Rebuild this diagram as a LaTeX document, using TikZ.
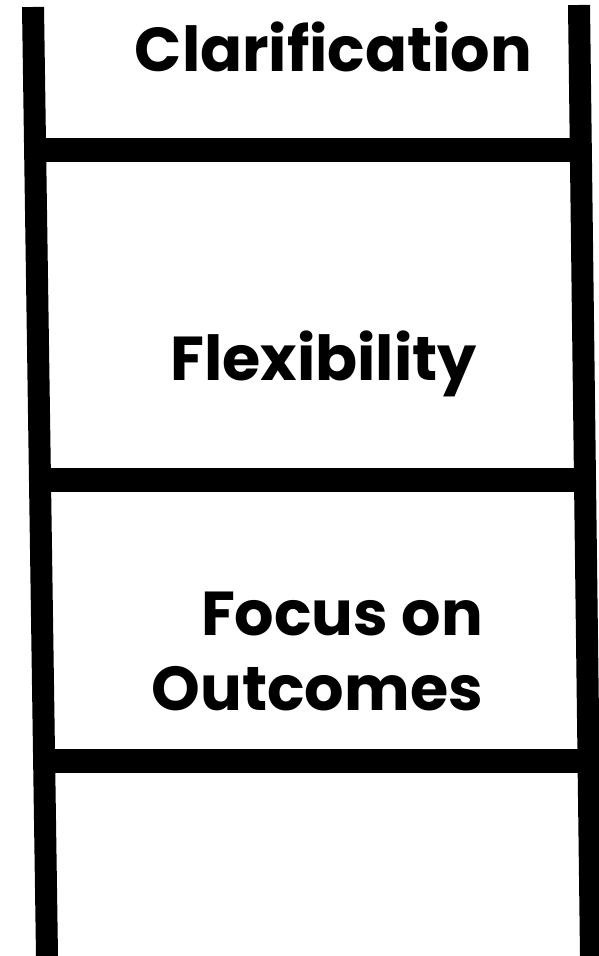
\documentclass[tikz,border=0pt]{standalone}
\usepackage{fontspec}
\setmainfont{Poppins}
\tikzstyle{rail}=[line width=22pt,line cap=butt]
\tikzstyle{rung}=[line width=24pt,line cap=butt]
\tikzstyle{label}=[font=\fontsize{62}{75}\selectfont\bfseries,inner sep=0pt]

\begin{document}
\begin{tikzpicture}[x=1pt,y=-1pt]
    \useasboundingbox (0,0) rectangle (598,956);

    \coordinate (LT) at (33,7);
    \coordinate (LB) at (47,956);
    \coordinate (RT) at (579,5);
    \coordinate (RB) at (591,956);

    \draw (LT) -- (LB) [rail];
    \draw (RT) -- (RB) [rail];

    \draw (36,150) -- (582,150) [rung];
    \draw (40,480) -- (585,480) [rung];
    \draw (43,761) -- (587,761) [rung];

    \node (clar) at (333.5,71) [label,anchor=base] {Clarification};
    \node (flex) at (323.5,380) [label,anchor=base] {Flexibility};
    \node (focus) at (483,710) [label,anchor=base east,align=right] {Focus on\\Outcomes};
  \end{tikzpicture}
\end{document}
